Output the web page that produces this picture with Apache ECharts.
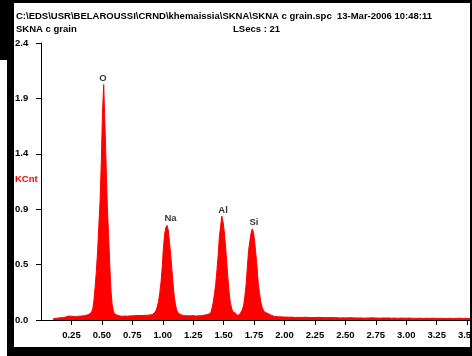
<!DOCTYPE html>
<html>
<head>
<meta charset="utf-8">
<script src="https://cdn.jsdelivr.net/npm/echarts@6/dist/echarts.min.js"></script>
<style>
  html, body { margin: 0; padding: 0; background: #fff; }
  #wrap { width: 472px; height: 356px; overflow: hidden; position: relative; }
  #chart { width: 490px; height: 356px; }
</style>
</head>
<body>
<div id="wrap"><div id="chart"></div></div>
<script>
// spectrum: first channel energy (keV), channel width (keV), counts (KCnt)
const startKeV = 0.10
const stepKeV = 0.01
const counts = [
  0.010, 0.014, 0.015, 0.016, 0.018, 0.017, 0.020, 0.022, 0.021, 0.024,
  0.026, 0.025, 0.030, 0.034, 0.033, 0.036, 0.032, 0.030, 0.031, 0.029,
  0.030, 0.033, 0.031, 0.034, 0.038, 0.036, 0.042, 0.045, 0.044, 0.048,
  0.052, 0.058, 0.070, 0.095, 0.170, 0.290, 0.430, 0.600, 0.820, 1.030,
  1.360, 1.790, 2.040, 1.700, 1.340, 0.980, 0.740, 0.470, 0.250, 0.130,
  0.075, 0.052, 0.042, 0.038, 0.036, 0.034, 0.035, 0.033, 0.036, 0.034,
  0.035, 0.033, 0.037, 0.036, 0.034, 0.038, 0.036, 0.035, 0.039, 0.037,
  0.038, 0.036, 0.040, 0.039, 0.037, 0.041, 0.040, 0.042, 0.044, 0.043,
  0.046, 0.048, 0.052, 0.055, 0.065, 0.085, 0.115, 0.160, 0.230, 0.320,
  0.450, 0.620, 0.740, 0.800, 0.820, 0.780, 0.680, 0.570, 0.440, 0.310,
  0.200, 0.130, 0.085, 0.062, 0.048, 0.042, 0.040, 0.038, 0.036, 0.037,
  0.035, 0.037, 0.034, 0.036, 0.035, 0.038, 0.036, 0.034, 0.037, 0.036,
  0.038, 0.037, 0.039, 0.040, 0.042, 0.044, 0.046, 0.050, 0.055, 0.065,
  0.080, 0.105, 0.155, 0.230, 0.310, 0.430, 0.560, 0.720, 0.810, 0.900,
  0.850, 0.770, 0.650, 0.510, 0.370, 0.240, 0.150, 0.105, 0.072, 0.060,
  0.050, 0.045, 0.040, 0.045, 0.052, 0.072, 0.095, 0.130, 0.210, 0.310,
  0.460, 0.600, 0.680, 0.750, 0.790, 0.760, 0.680, 0.570, 0.450, 0.310,
  0.230, 0.160, 0.115, 0.090, 0.070, 0.060, 0.055, 0.050, 0.045, 0.040,
  0.035, 0.032, 0.030, 0.028, 0.029, 0.027, 0.028, 0.026, 0.027, 0.025,
  0.026, 0.024, 0.025, 0.027, 0.024, 0.023, 0.025, 0.024, 0.022, 0.024,
  0.023, 0.025, 0.022, 0.024, 0.023, 0.021, 0.023, 0.022, 0.024, 0.021,
  0.022, 0.024, 0.021, 0.023, 0.022, 0.025, 0.022, 0.020, 0.023, 0.021,
  0.022, 0.020, 0.021, 0.023, 0.020, 0.022, 0.021, 0.019, 0.021, 0.020,
  0.021, 0.019, 0.020, 0.022, 0.019, 0.020, 0.018, 0.021, 0.019, 0.020,
  0.018, 0.020, 0.019, 0.017, 0.020, 0.018, 0.019, 0.021, 0.018, 0.019,
  0.017, 0.019, 0.018, 0.020, 0.017, 0.018, 0.016, 0.019, 0.018, 0.017,
  0.018, 0.016, 0.019, 0.017, 0.018, 0.016, 0.017, 0.019, 0.016, 0.018,
  0.017, 0.016, 0.018, 0.015, 0.017, 0.016, 0.018, 0.017, 0.015, 0.016,
  0.017, 0.015, 0.016, 0.018, 0.015, 0.016, 0.017, 0.015, 0.016, 0.014,
  0.016, 0.015, 0.017, 0.014, 0.016, 0.015, 0.014, 0.016, 0.015, 0.017,
  0.015, 0.014, 0.016, 0.015, 0.013, 0.015, 0.016, 0.014, 0.015, 0.013,
  0.015, 0.014, 0.016, 0.013, 0.015, 0.014, 0.013, 0.015, 0.016, 0.014,
  0.013, 0.015, 0.014, 0.016, 0.014, 0.013, 0.015, 0.014, 0.013, 0.015,
  0.014, 0.013, 0.015, 0.014, 0.016, 0.015, 0.013, 0.014, 0.015, 0.014,
  0.013, 0.015, 0.014, 0.013, 0.015, 0.014, 0.013, 0.015, 0.014, 0.013, 0.014
]

// element labels above the peaks
const peakNames = ['O', 'Na', 'Al', 'Si']
const peakKeV = [0.508, 1.064, 1.495, 1.749]
const peakLabelY = [2.097, 0.884, 0.953, 0.849]

const yTickLabels = ['0.0', '0.5', '0.9', '1.4', '1.9', '2.4']

const headerPath = 'C:\\EDS\\USR\\BELAROUSSI\\CRND\\khemaissia\\SKNA\\SKNA c grain.spc  13-Mar-2006 10:48:11'
const headerName = 'SKNA c grain'
const headerLive = 'LSecs : 21'

const spectrum = counts.map((c, i) => [+(startKeV + i * stepKeV).toFixed(2), c])

const font = 'Liberation Sans, Arial, sans-serif'
const txt = { fontFamily: font, fontWeight: 'bold', fontSize: 9.5, color: '#000' }

const chart = echarts.init(document.getElementById('chart'), null, { renderer: 'canvas' })

chart.setOption({
  animation: false,
  backgroundColor: '#fff',
  grid: { left: 41, top: 43, width: 438.3, height: 277, containLabel: false },
  xAxis: {
    type: 'value',
    min: 0,
    max: 3.6,
    interval: 0.25,
    axisLine: { lineStyle: { color: '#000', width: 1 } },
    axisTick: { length: 5, lineStyle: { color: '#000' } },
    axisLabel: {
      ...txt,
      margin: 10,
      showMinLabel: false,
      showMaxLabel: false,
      formatter: v => v.toFixed(2)
    },
    splitLine: { show: false }
  },
  yAxis: {
    type: 'value',
    min: 0,
    max: 2.4,
    interval: 0.48,
    axisLine: { show: true, lineStyle: { color: '#000', width: 1 } },
    axisTick: { show: true, length: 5, lineStyle: { color: '#000' } },
    axisLabel: {
      ...txt,
      align: 'left',
      margin: 26,
      formatter: (v, i) => yTickLabels[i]
    },
    splitLine: { show: false }
  },
  series: [
    {
      type: 'line',
      data: spectrum,
      step: 'middle',
      symbol: 'none',
      lineStyle: { color: '#ff0000', width: 1 },
      areaStyle: { color: '#ff0000', opacity: 1 },
      z: 3
    },
    {
      type: 'scatter',
      symbolSize: 0,
      data: peakNames.map((n, i) => ({ name: n, value: [peakKeV[i], peakLabelY[i]] })),
      label: { show: true, position: 'inside', formatter: p => p.name, ...txt },
      z: 4
    }
  ],
  graphic: [
    { type: 'text', left: 16, top: 11, style: { text: headerPath, font: 'bold 9.5px ' + font, fill: '#000' } },
    { type: 'text', left: 16, top: 24, style: { text: headerName, font: 'bold 9.5px ' + font, fill: '#000' } },
    { type: 'text', left: 233, top: 24, style: { text: headerLive, font: 'bold 9.5px ' + font, fill: '#000' } },
    { type: 'text', left: 15, top: 174, style: { text: 'KCnt', font: 'bold 9.5px ' + font, fill: '#ff0000' } },
    // window frame
    { type: 'rect', shape: { x: 0, y: 0, width: 490, height: 3 }, style: { fill: '#000' }, z: 100 },
    { type: 'rect', shape: { x: 0, y: 0, width: 14, height: 60 }, style: { fill: '#000' }, z: 100 },
    { type: 'rect', shape: { x: 7, y: 60, width: 7, height: 296 }, style: { fill: '#000' }, z: 100 },
    { type: 'rect', shape: { x: 7, y: 347, width: 483, height: 9 }, style: { fill: '#000' }, z: 100 },
    { type: 'rect', shape: { x: 470, y: 0, width: 20, height: 356 }, style: { fill: '#000' }, z: 100 }
  ]
})
</script>
</body>
</html>
